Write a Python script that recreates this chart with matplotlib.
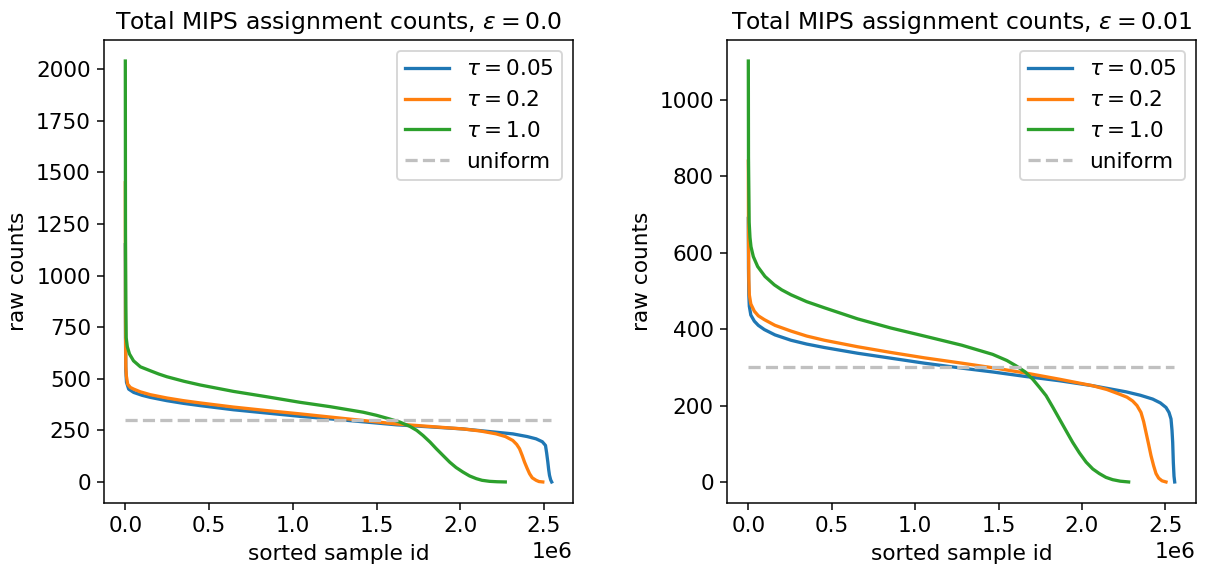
import matplotlib
matplotlib.use('Agg')
import matplotlib.pyplot as plt

plt.rcParams['font.size'] = 11.5
plt.rcParams['lines.linewidth'] = 1.75

# values, x in units of 1e6 sample ids
labels = [r'$\tau = 0.05$', r'$\tau = 0.2$', r'$\tau = 1.0$']
colors = ['#1f77b4', '#ff7f0e', '#2ca02c']
uniform = 300

# eps = 0.0
x_l_blue = [0, 0.001, 0.003, 0.007, 0.02, 0.05, 0.1, 0.149, 0.248, 0.347, 0.447, 0.645, 0.844,
            1.043, 1.277, 1.619, 2.016, 2.314, 2.4, 2.453, 2.49, 2.509, 2.516, 2.523, 2.528,
            2.533, 2.54, 2.546]
y_l_blue = [1150, 700, 540, 483, 450, 434, 420, 410, 394, 381, 370, 350, 334,
            318, 302, 277, 257, 233, 220, 209, 195, 177, 140, 96, 60,
            32, 10, 0]
x_l_orange = [0, 0.001, 0.003, 0.006, 0.014, 0.03, 0.05, 0.089, 0.149, 0.248, 0.347, 0.447,
              0.645, 0.844, 1.043, 1.277, 1.619, 2.016, 2.12, 2.215, 2.27, 2.314, 2.337, 2.354,
              2.37, 2.384, 2.4, 2.414, 2.43, 2.453, 2.47, 2.493]
y_l_orange = [1450, 800, 560, 515, 474, 458, 450, 437, 423, 407, 394, 383,
              363, 346, 330, 310, 281, 257, 247, 233, 220, 201, 182, 161,
              128, 96, 65, 40, 20, 8, 2, 0]
x_l_green = [0, 0.001, 0.003, 0.005, 0.012, 0.025, 0.049, 0.09, 0.149, 0.2, 0.248, 0.35, 0.447,
             0.645, 0.844, 1.043, 1.222, 1.42, 1.5, 1.579, 1.64, 1.698, 1.74, 1.778, 1.82,
             1.857, 1.9, 1.937, 1.975, 2.016, 2.056, 2.096, 2.13, 2.175, 2.22, 2.269]
y_l_green = [2040, 1200, 850, 700, 655, 620, 587, 558, 539, 523, 510, 488, 470,
             439, 413, 386, 365, 338, 323, 305, 290, 270, 250, 225, 193,
             161, 126, 96, 70, 48, 29, 16, 8, 3, 1, 0]
n_left = 2.543

# eps = 0.01
x_r_blue = [0, 0.001, 0.003, 0.006, 0.015, 0.036, 0.06, 0.096, 0.16, 0.256, 0.35, 0.456, 0.655,
            0.855, 1.055, 1.28, 1.465, 1.665, 1.865, 2.064, 2.264, 2.35, 2.424, 2.47, 2.504,
            2.522, 2.534, 2.54, 2.544, 2.548, 2.552, 2.556]
y_r_blue = [690, 560, 490, 460, 437, 421, 410, 399, 385, 371, 361, 352, 337,
            324, 311, 298, 288, 276, 265, 252, 236, 227, 217, 207, 195,
            182, 165, 135, 104, 50, 15, 0]
x_r_orange = [0, 0.001, 0.003, 0.006, 0.015, 0.036, 0.06, 0.096, 0.16, 0.256, 0.35, 0.456,
              0.655, 0.855, 1.055, 1.28, 1.465, 1.665, 1.865, 2.064, 2.15, 2.224, 2.27, 2.304,
              2.33, 2.354, 2.37, 2.384, 2.4, 2.414, 2.43, 2.444, 2.46, 2.48, 2.504]
y_r_orange = [840, 650, 530, 490, 466, 447, 435, 425, 410, 395, 382, 371,
              354, 339, 325, 311, 299, 285, 269, 252, 242, 230, 222, 212,
              200, 182, 158, 130, 98, 69, 42, 22, 10, 3, 0]
x_r_green = [0, 0.001, 0.005, 0.01, 0.016, 0.03, 0.056, 0.1, 0.156, 0.2, 0.256, 0.35, 0.456,
             0.655, 0.855, 1.055, 1.28, 1.465, 1.55, 1.605, 1.66, 1.705, 1.745, 1.785, 1.825,
             1.865, 1.905, 1.944, 1.985, 2.025, 2.065, 2.104, 2.144, 2.184, 2.23, 2.28]
y_r_green = [1102, 850, 680, 640, 616, 590, 564, 538, 516, 503, 490, 472, 456,
             427, 403, 382, 358, 334, 318, 304, 288, 269, 248, 226, 196,
             165, 134, 104, 76, 52, 34, 22, 12, 6, 2, 0]
n_right = 2.554

panels = [
    (r'Total MIPS assignment counts, $\epsilon = 0.0$', n_left,
     [(x_l_blue, y_l_blue), (x_l_orange, y_l_orange), (x_l_green, y_l_green)]),
    (r'Total MIPS assignment counts, $\epsilon = 0.01$', n_right,
     [(x_r_blue, y_r_blue), (x_r_orange, y_r_orange), (x_r_green, y_r_green)]),
]

fig = plt.figure(figsize=(1223 / 135, 571 / 135), dpi=135)
lefts = [104 / 1223, 727 / 1223]
for left, (title, n, series) in zip(lefts, panels):
    ax = fig.add_axes([left, 68 / 571, 469 / 1223, 463 / 571])
    for (xs, ys), c, lab in zip(series, colors, labels):
        ax.plot([v * 1e6 for v in xs], ys, color=c, label=lab)
    ax.plot([0, n * 1e6], [uniform, uniform], '--', color='silver', label='uniform')
    ax.set_title(title, fontsize=12.5)
    ax.set_xlabel('sorted sample id')
    ax.set_ylabel('raw counts')
    ax.legend(loc='upper right')

fig.savefig('out.png', dpi=135)
